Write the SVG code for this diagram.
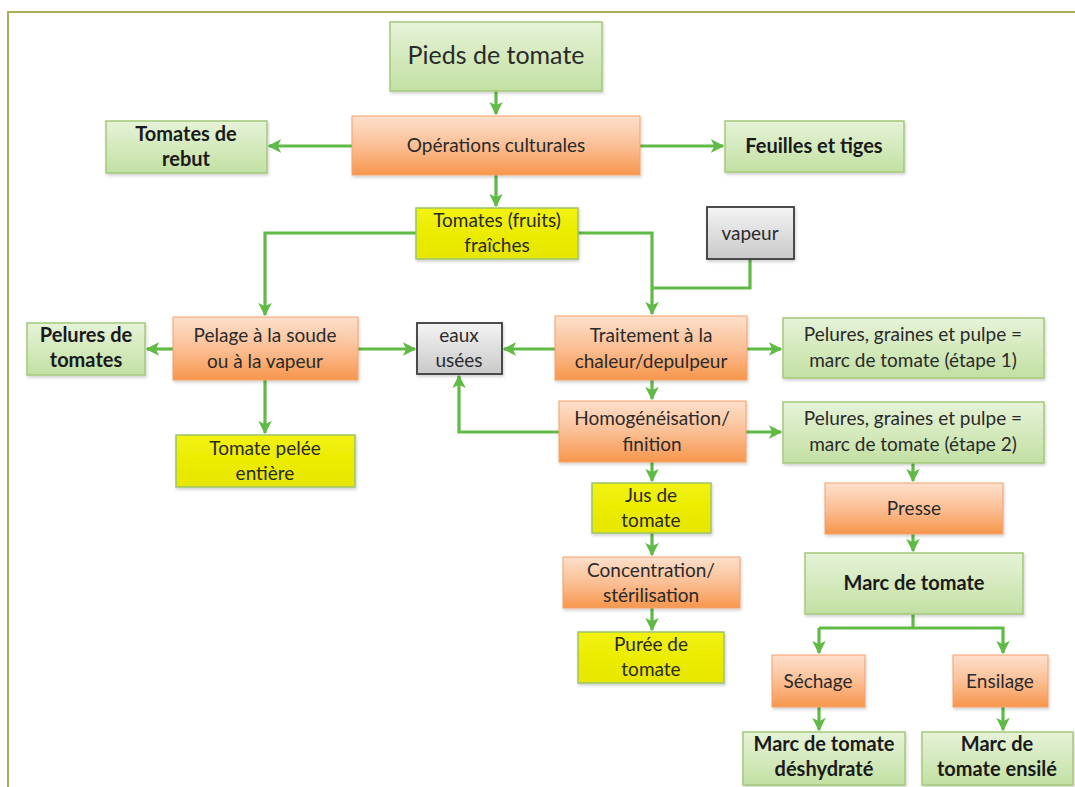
<svg xmlns="http://www.w3.org/2000/svg" width="1075" height="787" viewBox="0 0 1075 787">
<defs>
<linearGradient id="gG" x1="0" y1="0" x2="0" y2="1"><stop offset="0" stop-color="#e6f3d8"/><stop offset="1" stop-color="#c3e0a3"/></linearGradient>
<linearGradient id="gO" x1="0" y1="0" x2="0" y2="1"><stop offset="0" stop-color="#fde0cc"/><stop offset="0.5" stop-color="#fbbf95"/><stop offset="1" stop-color="#f7964c"/></linearGradient>
<linearGradient id="gY" x1="0" y1="0" x2="0" y2="1"><stop offset="0" stop-color="#f2f20a"/><stop offset="1" stop-color="#e6e600"/></linearGradient>
<linearGradient id="gS" x1="0" y1="0" x2="0" y2="1"><stop offset="0" stop-color="#f4f4f4"/><stop offset="1" stop-color="#c9c9c9"/></linearGradient>
<filter id="sh" x="-10%" y="-10%" width="120%" height="130%"><feDropShadow dx="1" dy="2" stdDeviation="1.5" flood-color="#000" flood-opacity="0.18"/></filter>
<marker id="ar" viewBox="0 0 10 10" refX="9" refY="5" markerWidth="4.2" markerHeight="4.2" orient="auto" markerUnits="strokeWidth"><path d="M0,0 L10,5 L0,10 L2.5,5 Z" fill="#5fba46"/></marker>
<style>
.g{fill:url(#gG);stroke:#a3c97a;stroke-width:1.5;filter:url(#sh)}
.o{fill:url(#gO);stroke:#f5a06a;stroke-width:1;filter:url(#sh)}
.y{fill:url(#gY);stroke:#9cc46a;stroke-width:1.5;filter:url(#sh)}
.s{fill:url(#gS);stroke:#3a3a3a;stroke-width:1.8;filter:url(#sh)}
text{font-family:Lato,"Open Sans","Liberation Sans",sans-serif;font-size:19px;fill:#2a2a2a;text-anchor:middle}
.b{font-weight:bold;font-size:20px;fill:#1a1a1a}
.c{fill:none;stroke:#5fba46;stroke-width:3.2;marker-end:url(#ar)}
.l{fill:none;stroke:#5fba46;stroke-width:3.2}
</style>
</defs>
<rect x="0" y="0" width="1075" height="787" fill="#ffffff"/>
<path d="M8,787 V12 H1075" fill="none" stroke="#a9ae5a" stroke-width="2"/>

<g id="connectors">
<path class="c" d="M496,91 V114"/>
<path class="c" d="M352,146 H269"/>
<path class="c" d="M640,146 H723"/>
<path class="c" d="M496,175 V206"/>
<path class="c" d="M416,233 H265 V315"/>
<path class="c" d="M578,233 H652 V314"/>
<path class="l" d="M750,259 V288 H652"/>
<path class="c" d="M173,349 H147"/>
<path class="c" d="M265,380 V433"/>
<path class="c" d="M358,349 H415"/>
<path class="c" d="M555,349 H504"/>
<path class="c" d="M747,349 H781"/>
<path class="c" d="M652,380 V399"/>
<path class="c" d="M559,432 H459 V376"/>
<path class="c" d="M746,432 H781"/>
<path class="c" d="M652,462 V481"/>
<path class="c" d="M913,463 V481"/>
<path class="c" d="M652,533 V555"/>
<path class="c" d="M652,608 V630"/>
<path class="c" d="M913,534 V551"/>
<path class="l" d="M913,614 V628"/>
<path class="c" d="M819,628 H1003 V653"/>
<path class="c" d="M819,628 V653"/>
<path class="c" d="M819,707 V730"/>
<path class="c" d="M1003,707 V730"/>
</g>

<g id="pieds"><rect class="g" x="390" y="22" width="212" height="69"/><text x="496" y="64" style="font-size:25px">Pieds de tomate</text></g>
<g id="operations"><rect class="o" x="352" y="116" width="288" height="59"/><text x="496" y="152">Opérations culturales</text></g>
<g id="rebut"><rect class="g" x="106" y="121" width="161" height="52"/><text class="b" x="186" y="141">Tomates de</text><text class="b" x="186" y="166">rebut</text></g>
<g id="feuilles"><rect class="g" x="725" y="121" width="179" height="51"/><text class="b" x="814" y="153">Feuilles et tiges</text></g>
<g id="fraiches"><rect class="y" x="416" y="208" width="162" height="51"/><text x="497" y="227">Tomates (fruits)</text><text x="497" y="252">fraîches</text></g>
<g id="vapeur"><rect class="s" x="707" y="207" width="87" height="52"/><text x="750" y="240">vapeur</text></g>
<g id="pelures"><rect class="g" x="27" y="323" width="118" height="52"/><text class="b" x="86" y="342">Pelures de</text><text class="b" x="86" y="367">tomates</text></g>
<g id="pelage"><rect class="o" x="173" y="317" width="185" height="63"/><text x="265" y="342">Pelage à la soude</text><text x="265" y="368">ou à la vapeur</text></g>
<g id="pelee"><rect class="y" x="176" y="435" width="179" height="52"/><text x="265" y="455">Tomate pelée</text><text x="265" y="480">entière</text></g>
<g id="eaux"><rect class="s" x="417" y="323" width="85" height="51"/><text x="459" y="342">eaux</text><text x="459" y="367">usées</text></g>
<g id="traitement"><rect class="o" x="555" y="316" width="192" height="64"/><text x="651" y="342">Traitement à la</text><text x="651" y="368">chaleur/depulpeur</text></g>
<g id="homog"><rect class="o" x="559" y="401" width="187" height="61"/><text x="652" y="425">Homogénéisation/</text><text x="652" y="451">finition</text></g>
<g id="etape1"><rect class="g" x="783" y="318" width="261" height="60"/><text x="913" y="341">Pelures, graines et pulpe =</text><text x="913" y="367">marc de tomate (étape 1)</text></g>
<g id="etape2"><rect class="g" x="783" y="402" width="261" height="61"/><text x="913" y="425">Pelures, graines et pulpe =</text><text x="913" y="451">marc de tomate (étape 2)</text></g>
<g id="jus"><rect class="y" x="592" y="483" width="119" height="50"/><text x="651" y="502">Jus de</text><text x="651" y="527">tomate</text></g>
<g id="concentration"><rect class="o" x="563" y="557" width="177" height="51"/><text x="651" y="577">Concentration/</text><text x="651" y="602">stérilisation</text></g>
<g id="puree"><rect class="y" x="578" y="632" width="146" height="51"/><text x="651" y="651">Purée de</text><text x="651" y="676">tomate</text></g>
<g id="presse"><rect class="o" x="825" y="483" width="178" height="51"/><text x="914" y="515">Presse</text></g>
<g id="marc"><rect class="g" x="805" y="553" width="218" height="61"/><text class="b" x="914" y="590">Marc de tomate</text></g>
<g id="sechage"><rect class="o" x="772" y="655" width="93" height="52"/><text x="818" y="688">Séchage</text></g>
<g id="ensilage"><rect class="o" x="953" y="655" width="95" height="52"/><text x="1000" y="688">Ensilage</text></g>
<g id="deshydrate"><rect class="g" x="743" y="732" width="162" height="53"/><text class="b" x="824" y="751">Marc de tomate</text><text class="b" x="824" y="776">déshydraté</text></g>
<g id="ensile"><rect class="g" x="922" y="732" width="151" height="53"/><text class="b" x="997" y="751">Marc de</text><text class="b" x="997" y="776">tomate ensilé</text></g>
</svg>
